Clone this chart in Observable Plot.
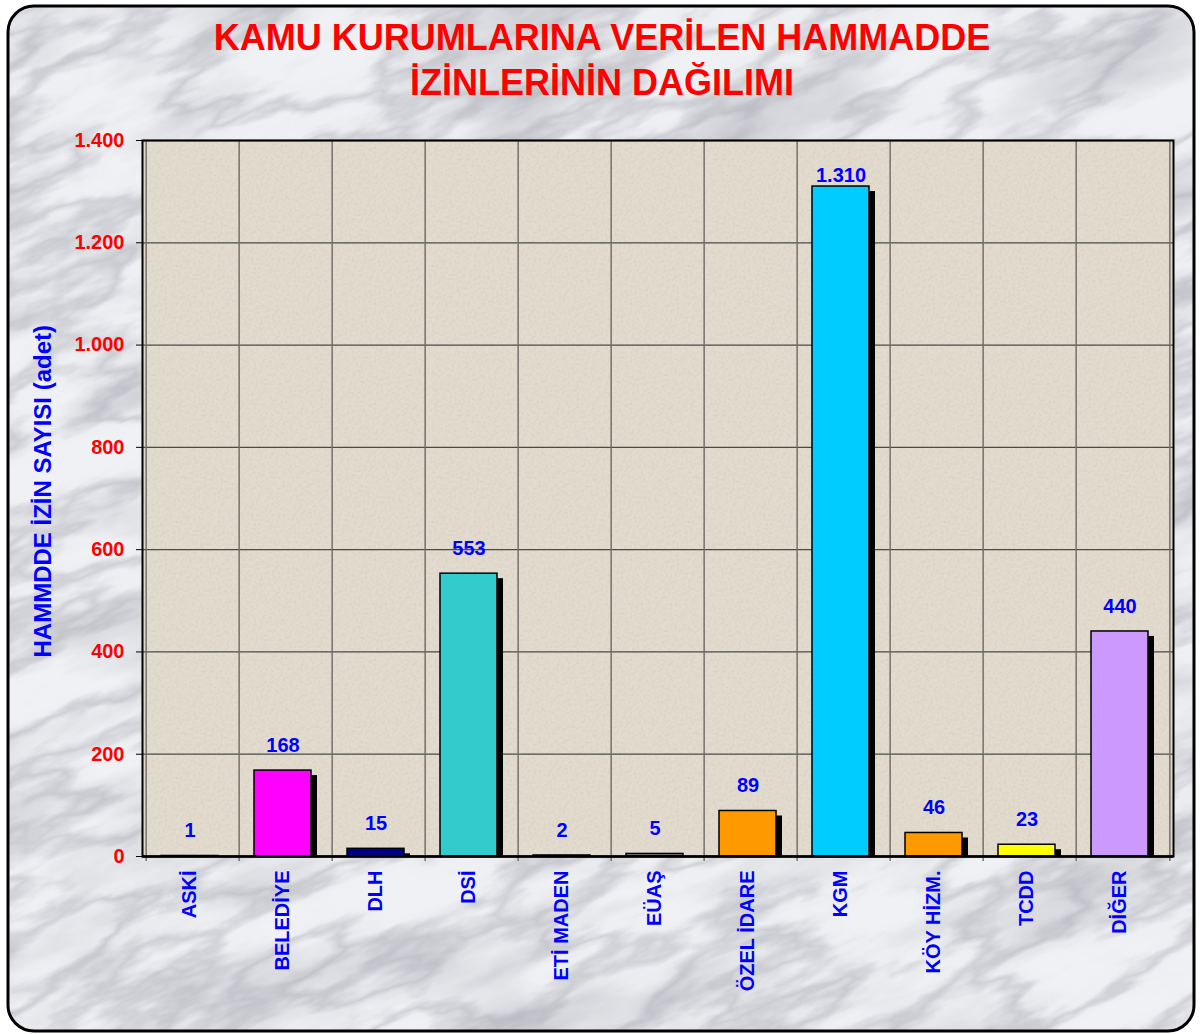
<!DOCTYPE html>
<html>
<head>
<meta charset="utf-8">
<script src="https://cdn.jsdelivr.net/npm/d3@7"></script>
<script src="https://cdn.jsdelivr.net/npm/@observablehq/plot@0.6"></script>
<style>
  body { margin: 0; background: #fff; }
  #wrap { position: relative; width: 1200px; height: 1034px; overflow: hidden; font-family: "Liberation Sans", Arial, sans-serif; }
  #bg { position: absolute; left: 0; top: 0; }
  #chart { position: absolute; left: 0; top: 0; }
  #title { position: absolute; left: 0; top: 15px; width: 1204px; text-align: center; color: #ff0000; font-weight: bold; font-size: 36px; line-height: 45px; }
  #chart svg text { font-weight: bold; }
</style>
</head>
<body>
<div id="wrap">
  <svg id="bg" width="1200" height="1034">
    <defs>
      <clipPath id="round"><rect x="8" y="6" width="1186" height="1025" rx="26"/></clipPath>
      <filter id="marble" x="0" y="0" width="1" height="1">
        <feTurbulence type="fractalNoise" baseFrequency="0.005 0.016" numOctaves="5" seed="4" result="n"/>
        <feColorMatrix in="n" type="matrix" values="0 0 0 0 0.45  0 0 0 0 0.46  0 0 0 0 0.5  1.3 0 0 0 -0.56" result="cloud"/>
        <feColorMatrix in="n" type="matrix" values="0 0 0 0 0.35  0 0 0 0 0.35  0 0 0 0 0.4  0 1 0 0 0" result="g"/>
        <feComponentTransfer in="g" result="vein"><feFuncA type="table" tableValues="0 0 0 0 0.03 0.4 0.03 0 0 0 0"/></feComponentTransfer>
        <feMerge><feMergeNode in="cloud"/><feMergeNode in="vein"/></feMerge>
      </filter>
      <filter id="speck" x="0" y="0" width="1" height="1">
        <feTurbulence type="fractalNoise" baseFrequency="0.45" numOctaves="2" seed="2" stitchTiles="stitch"/>
        <feColorMatrix type="matrix" values="0 0 0 0 0.55  0 0 0 0 0.5  0 0 0 0 0.44  0.9 0 0 0 -0.36"/>
      </filter>
      <pattern id="paper" patternUnits="userSpaceOnUse" width="256" height="256">
        <rect width="256" height="256" fill="#e3dccf"/>
        <rect width="256" height="256" filter="url(#speck)"/>
      </pattern>
    </defs>
    <g clip-path="url(#round)">
      <rect width="1200" height="1034" fill="#f0f1f4"/>
      <g transform="rotate(-22 600 517)"><rect x="-500" y="-500" width="2200" height="2034" filter="url(#marble)"/></g>
    </g>
    <rect x="8" y="6" width="1186" height="1025" rx="26" fill="none" stroke="#000" stroke-width="3"/>
  </svg>
  <div id="chart"></div>
  <div id="title">KAMU KURUMLARINA VERİLEN HAMMADDE<br>İZİNLERİNİN DAĞILIMI</div>
</div>
<script>
// ---- data ----
const categories = ["ASKİ", "BELEDİYE", "DLH", "DSİ", "ETİ MADEN", "EÜAŞ", "ÖZEL İDARE", "KGM", "KÖY HİZM.", "TCDD", "DİĞER"];
const values = [1, 168, 15, 553, 2, 5, 89, 1310, 46, 23, 440];
const colors = ["#9999ff", "#ff00ff", "#000080", "#33cccc", "#993366", "#808080", "#ff9900", "#00ccff", "#ff9900", "#ffff00", "#cc99ff"];
const yTicks = [0, 200, 400, 600, 800, 1000, 1200, 1400];
const yTitle = "HAMMDDE İZİN SAYISI (adet)";

const data = categories.map((c, i) => ({cat: c, value: values[i], color: colors[i]}));
const fmt = d => d3.format(",")(d).replace(/,/g, ".");

const W = 1200, ML = 142, MR = 27;
const step = (W - ML - MR) / categories.length;

const chart = Plot.plot({
  width: W, height: 1034,
  marginLeft: ML, marginRight: MR, marginTop: 140, marginBottom: 178,
  style: {background: "transparent", fontFamily: "'Liberation Sans', Arial, sans-serif", overflow: "visible"},
  x: {domain: categories, paddingInner: 0.39, paddingOuter: 0.195, axis: null},
  y: {domain: [0, 1400], axis: null},
  marks: [
    Plot.frame({fill: "url(#paper)"}),
    Plot.ruleY(yTicks, {stroke: "#4a4a4a", strokeWidth: 1.3}),
    Plot.ruleX(categories, {x: d => d, dx: -step / 2, y1: -10, y2: 1400, stroke: "#6e6a64", strokeWidth: 1.4}),
    Plot.ruleX(categories.slice(-1), {x: d => d, dx: step / 2, y1: -10, y2: 1400, stroke: "#6e6a64", strokeWidth: 1.4}),
    Plot.barY(data.filter(d => d.value >= 10), {x: "cat", y: "value", fill: "black", dx: 3, dy: 5, insetBottom: 5}),
    Plot.barY(data, {x: "cat", y: "value", fill: "color", stroke: "black", strokeWidth: 1.5, dx: -3}),
    Plot.text(data.filter(d => d.value < 1300), {x: "cat", y: "value", text: d => fmt(d.value), dy: -25, dx: -3, fill: "blue", fontSize: 20}),
    Plot.text(data.filter(d => d.value >= 1300), {x: "cat", y: "value", text: d => fmt(d.value), dy: -11, dx: -3, fill: "blue", fontSize: 20}),
    Plot.frame({stroke: "black", strokeWidth: 2}),
    Plot.ruleY([0], {stroke: "black", strokeWidth: 2.5}),
    Plot.axisY({ticks: yTicks, tickFormat: fmt, tickSize: 6, tickPadding: 12, fontSize: 20, fill: "red", stroke: "black", label: null}),
    Plot.axisX({tickRotate: -90, tickSize: 0, tickPadding: 14, fontSize: 20, fill: "blue", label: null, dx: -3}),
    Plot.text([yTitle], {frameAnchor: "left", rotate: -90, textAnchor: "start", dx: -99, dy: 159, fill: "blue", fontSize: 24})
  ]
});
document.getElementById("chart").appendChild(chart);
</script>
</body>
</html>
